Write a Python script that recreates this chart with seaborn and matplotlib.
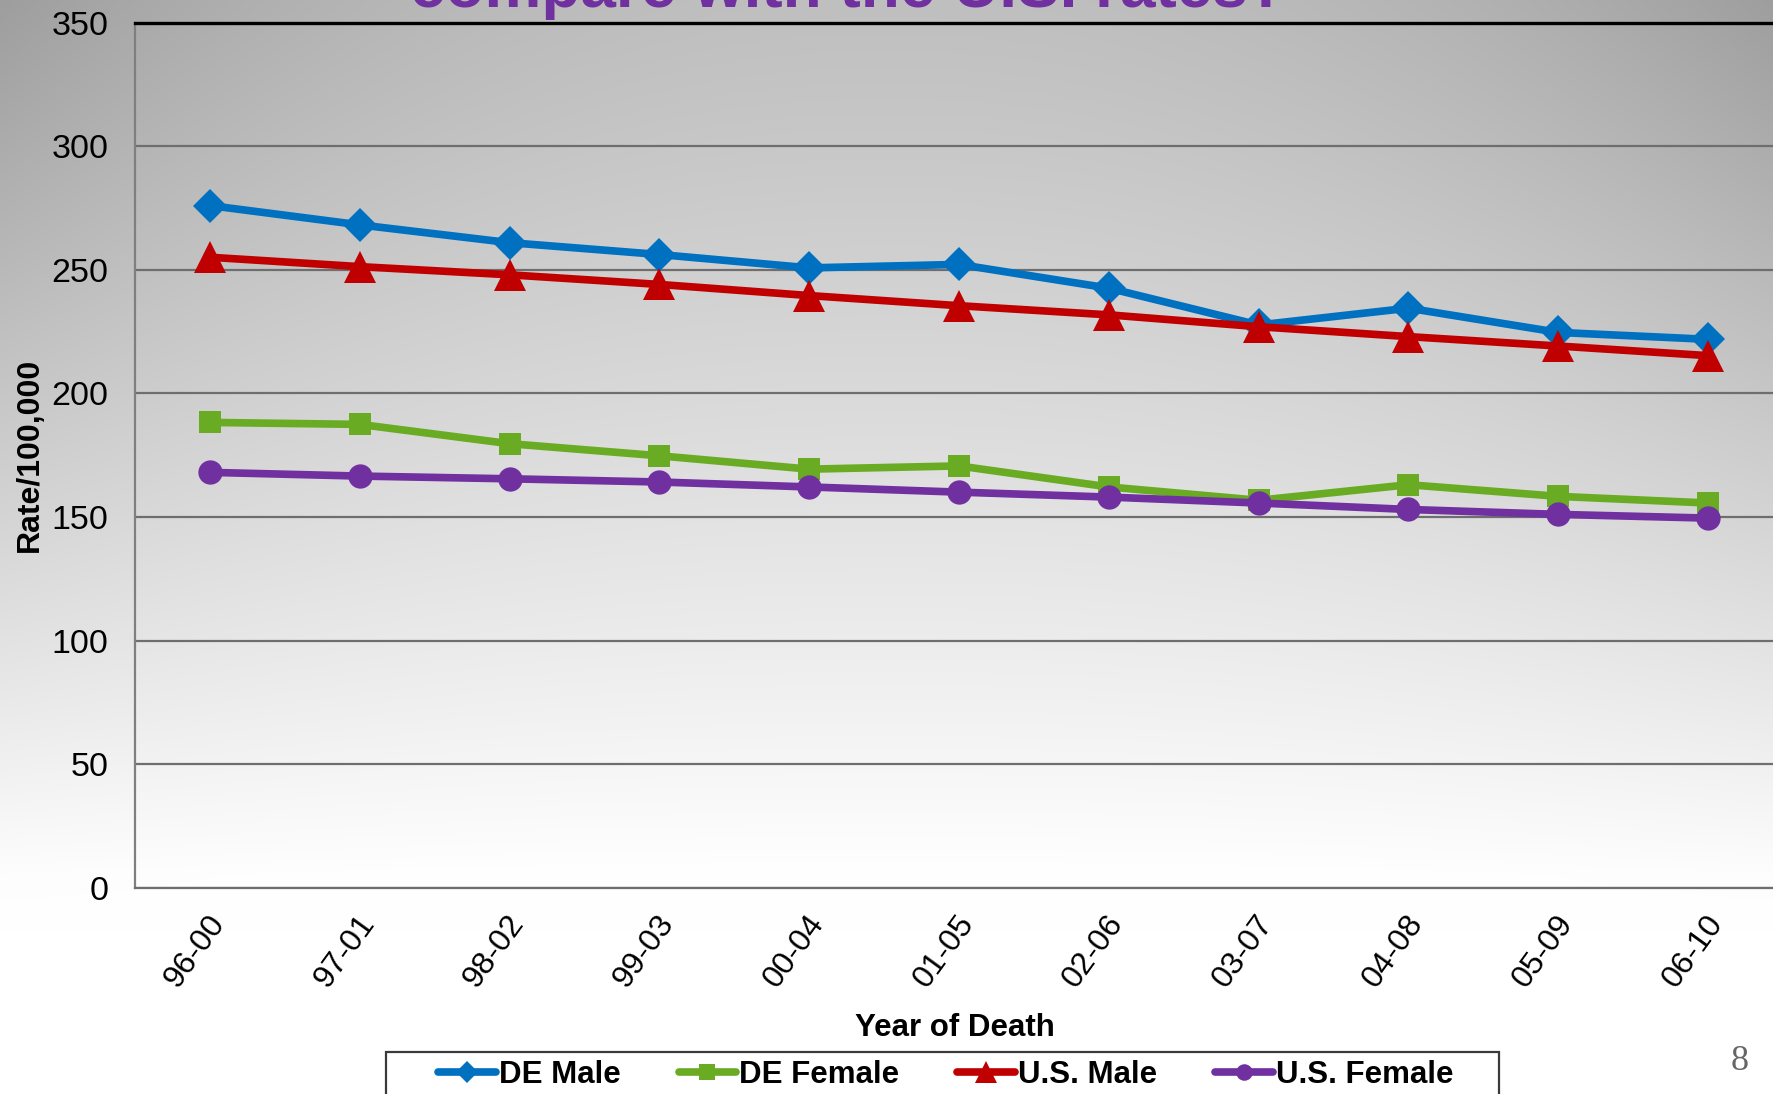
import numpy as np
import pandas as pd
import matplotlib
matplotlib.use('Agg')
import matplotlib.pyplot as plt
import matplotlib.patches as mpatches
import matplotlib.transforms as mtransforms
import seaborn as sns

# datos
periods = ['96-00', '97-01', '98-02', '99-03', '00-04', '01-05',
           '02-06', '03-07', '04-08', '05-09', '06-10']
de_male = [276.0, 268.2, 261.0, 256.2, 250.8, 252.2, 242.6, 227.7, 234.5, 224.7, 221.9]
de_female = [188.3, 187.5, 179.7, 174.8, 169.4, 170.7, 162.2, 156.8, 163.1, 158.4, 155.7]
us_male = [255.1, 251.3, 248.0, 244.1, 239.6, 235.5, 231.8, 227.0, 223.0, 219.2, 215.3]
us_female = [168.1, 166.6, 165.5, 164.2, 162.2, 160.1, 158.1, 155.7, 153.1, 151.1, 149.6]
series_names = ['DE Male', 'DE Female', 'U.S. Male', 'U.S. Female']

sns.set_theme(style='white')
plt.rcParams['font.family'] = ['Liberation Sans', 'DejaVu Sans']
for k in ['text.color', 'axes.labelcolor', 'xtick.color', 'ytick.color']:
    plt.rcParams[k] = 'black'

df = pd.DataFrame({'period': periods, 'DE Male': de_male, 'DE Female': de_female,
                   'U.S. Male': us_male, 'U.S. Female': us_female})
long_df = df.melt(id_vars='period', var_name='series', value_name='rate')

styles = {
    'DE Male': dict(color='#0070c0', marker='D', ms=17),
    'DE Female': dict(color='#6aab24', marker='s', ms=16),
    'U.S. Male': dict(color='#c00000', marker='^', ms=23.5),
    'U.S. Female': dict(color='#7030a0', marker='o', ms=17.5),
}

fig = plt.figure(figsize=(17.74, 10.94), dpi=100)

# fondo degradado gris -> blanco
bg = fig.add_axes([0, 0, 1, 1], zorder=-5)
yy, xx = np.mgrid[0:1:400j, 0:1:600j]
base = 0.75 + 0.25 * np.clip(yy / 0.8, 0, 1) ** 1.1
side = 0.13 * (np.abs(xx - 0.5) * 2) ** 2.2 * np.clip(1 - yy / 0.85, 0, 1)
shade = np.clip(base - side, 0, 1)
bg.imshow(np.dstack([shade] * 3), aspect='auto', extent=(0, 1, 0, 1), origin='upper')
bg.axis('off')

ax = fig.add_axes([135 / 1774, 1 - 888 / 1094, 1 - 135 / 1774, (888 - 22.6) / 1094])
ax.set_facecolor('none')

for name in series_names:
    st = styles[name]
    sns.lineplot(data=long_df[long_df['series'] == name], x='period', y='rate',
                 ax=ax, color=st['color'], marker=st['marker'], markersize=st['ms'],
                 markeredgecolor=st['color'], markeredgewidth=0, linewidth=5.5,
                 label=name, sort=False)

ax.set_ylim(0, 350)
ax.set_xlim(-0.5, 10.44)
ax.set_yticks(range(0, 351, 50))
ax.yaxis.grid(True, color='#6e6e6e', linewidth=1.6)
ax.set_axisbelow(True)
ax.tick_params(axis='y', length=0, pad=19, labelsize=24.5)
ax.tick_params(axis='x', length=0, pad=22, labelsize=23)
shift = mtransforms.ScaledTranslation(9 / 100, 0, fig.dpi_scale_trans)
for lab in ax.get_xticklabels():
    lab.set_rotation(54)
    lab.set_ha('right')
    lab.set_va('center')
    lab.set_rotation_mode('anchor')
    lab.set_transform(lab.get_transform() + shift)

ax.spines['right'].set_visible(False)
ax.spines['top'].set_color('black')
ax.spines['top'].set_linewidth(2.4)
ax.spines['left'].set_color('#7f7f7f')
ax.spines['left'].set_linewidth(1.6)
ax.spines['bottom'].set_color('#6e6e6e')
ax.spines['bottom'].set_linewidth(1.6)

ax.set_xlabel('Year of Death', fontsize=22.5, fontweight='bold')
ax.xaxis.set_label_coords(0.5, -0.145)
ax.set_ylabel('Rate/100,000', fontsize=23, fontweight='bold')
ax.yaxis.set_label_coords(-0.055, 0.5)

# leyenda: caja dibujada aparte (sale por abajo de la figura)
handles, labels = ax.get_legend_handles_labels()
ax.get_legend().remove()
box = mpatches.Rectangle((386 / 1774, -0.05), (1499 - 386) / 1774, 0.05 + 1 - 1052 / 1094,
                         transform=fig.transFigure, facecolor='white', edgecolor='#3a3a3a',
                         linewidth=1.6, zorder=1)
fig.patches.append(box)
leg = fig.legend(handles, labels, loc='center left', bbox_to_anchor=(438 / 1774, 1 - 1075 / 1094),
                 ncol=4, frameon=False, borderaxespad=0, borderpad=0,
                 prop={'weight': 'bold', 'size': 22.5}, handlelength=1.85,
                 handletextpad=0.1, columnspacing=1.85)
leg.set_zorder(2)
for h, name in zip(leg.legend_handles, labels):
    h.set_markersize(styles[name]['ms'] * 0.68)

# titulo cortado arriba y numero de pagina
fig.text(848 / 1774, 1 - 7 / 1094, 'compare with the U.S. rates?', ha='center', va='baseline',
         fontsize=46, fontweight='bold', color='#7030a0')
fig.text(1740 / 1774, 1 - 1061 / 1094, '8', ha='center', va='center', fontsize=26,
         color='#666666', family=['Liberation Serif', 'DejaVu Serif'])

fig.savefig('out.png', dpi=100)
